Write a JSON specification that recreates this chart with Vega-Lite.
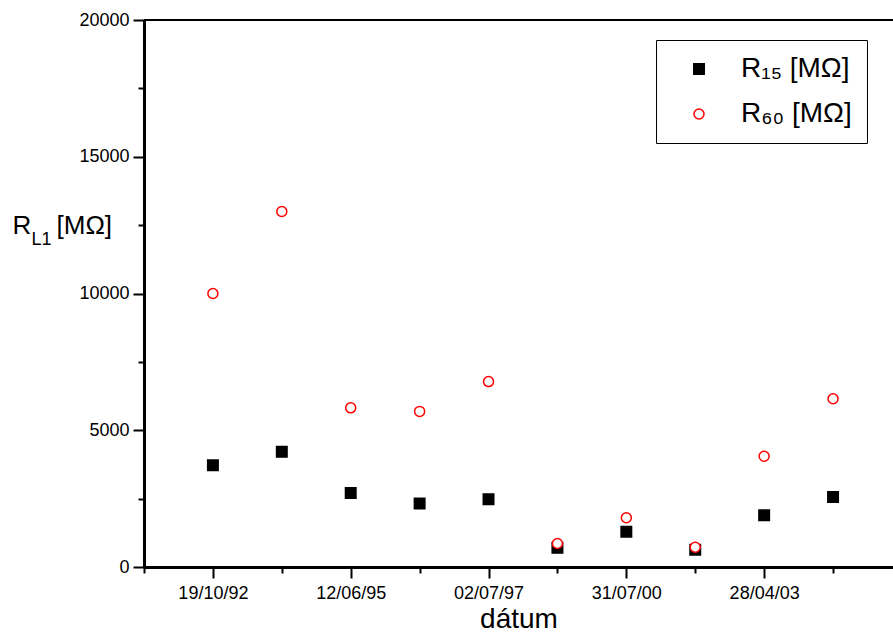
{
  "$schema": "https://vega.github.io/schema/vega-lite/v6.json",
  "width": 749,
  "height": 547,
  "autosize": {"type": "none"},
  "padding": {"left": 144, "top": 20, "right": 0, "bottom": 65},
  "background": "white",
  "config": {
    "view": {"stroke": null},
    "font": "Liberation Sans",
    "axis": {
      "grid": false,
      "domainColor": "black",
      "tickColor": "black",
      "labelColor": "black",
      "titleColor": "black",
      "labelFont": "Liberation Sans",
      "titleFont": "Liberation Sans",
      "titleFontWeight": "normal"
    },
    "legend": {
      "labelFont": "Liberation Sans",
      "labelColor": "black"
    }
  },
  "data": {
    "values": [
      {"i": 0, "s": "R15", "v": 3720},
      {"i": 1, "s": "R15", "v": 4210},
      {"i": 2, "s": "R15", "v": 2710},
      {"i": 3, "s": "R15", "v": 2320},
      {"i": 4, "s": "R15", "v": 2480},
      {"i": 5, "s": "R15", "v": 700},
      {"i": 6, "s": "R15", "v": 1290},
      {"i": 7, "s": "R15", "v": 630},
      {"i": 8, "s": "R15", "v": 1890},
      {"i": 9, "s": "R15", "v": 2560},
      {"i": 0, "s": "R60", "v": 10000},
      {"i": 1, "s": "R60", "v": 13000},
      {"i": 2, "s": "R60", "v": 5820},
      {"i": 3, "s": "R60", "v": 5690},
      {"i": 4, "s": "R60", "v": 6780},
      {"i": 5, "s": "R60", "v": 860},
      {"i": 6, "s": "R60", "v": 1800},
      {"i": 7, "s": "R60", "v": 720},
      {"i": 8, "s": "R60", "v": 4050},
      {"i": 9, "s": "R60", "v": 6150}
    ]
  },
  "layer": [
    {
      "transform": [{"filter": "datum.s == 'R15'"}],
      "mark": {"type": "point", "opacity": 1, "strokeWidth": 1.5},
      "encoding": {
        "x": {
          "field": "i", "type": "quantitative",
          "scale": {"domain": [-1, 9.87], "nice": false, "zero": false},
          "axis": {
            "orient": "bottom",
            "values": [0, 2, 4, 6, 8],
            "labelExpr": "datum.value == 0 ? '19/10/92' : datum.value == 2 ? '12/06/95' : datum.value == 4 ? '02/07/97' : datum.value == 6 ? '31/07/00' : '28/04/03'",
            "labelFlush": false,
            "tickSize": 11,
            "tickWidth": 2,
            "domainWidth": 3,
            "labelFontSize": 18,
            "labelPadding": 6,
            "title": "dátum",
            "titleFontSize": 28,
            "titlePadding": 3
          }
        },
        "y": {
          "field": "v", "type": "quantitative",
          "scale": {"domain": [0, 20000], "nice": false},
          "axis": {
            "orient": "left",
            "values": [0, 5000, 10000, 15000, 20000],
            "format": "d",
            "tickSize": 11,
            "tickWidth": 2,
            "domainWidth": 3,
            "labelFontSize": 18,
            "labelPadding": 4,
            "title": "R",
            "titleAngle": 0,
            "titleAlign": "left",
            "titleBaseline": "alphabetic",
            "titleX": -132,
            "titleY": 213,
            "titleFontSize": 26
          }
        },
        "shape": {"field": "s", "type": "nominal", "scale": {"domain": ["R15", "R60"], "range": ["square", "circle"]}, "legend": {"orient": "none", "legendX": 512, "legendY": 20, "title": null, "strokeColor": "black", "fillColor": "white", "padding": 15, "labelFontSize": 28, "rowPadding": 17, "symbolOffset": 14, "labelOffset": 28, "labelExpr": "datum.label == 'R15' ? 'R₁₅ [MΩ]' : 'R₆₀ [MΩ]'"}},
        "fill": {"field": "s", "type": "nominal", "scale": {"domain": ["R15", "R60"], "range": ["black", "white"]}, "legend": {"orient": "none", "legendX": 512, "legendY": 20, "title": null, "strokeColor": "black", "fillColor": "white", "padding": 15, "labelFontSize": 28, "rowPadding": 17, "symbolOffset": 14, "labelOffset": 28, "labelExpr": "datum.label == 'R15' ? 'R₁₅ [MΩ]' : 'R₆₀ [MΩ]'"}},
        "stroke": {"field": "s", "type": "nominal", "scale": {"domain": ["R15", "R60"], "range": ["black", "#ff0000"]}, "legend": {"orient": "none", "legendX": 512, "legendY": 20, "title": null, "strokeColor": "black", "fillColor": "white", "padding": 15, "labelFontSize": 28, "rowPadding": 17, "symbolOffset": 14, "labelOffset": 28, "labelExpr": "datum.label == 'R15' ? 'R₁₅ [MΩ]' : 'R₆₀ [MΩ]'"}},
        "size": {"field": "s", "type": "nominal", "scale": {"domain": ["R15", "R60"], "range": [110, 100]}, "legend": {"orient": "none", "legendX": 512, "legendY": 20, "title": null, "strokeColor": "black", "fillColor": "white", "padding": 15, "labelFontSize": 28, "rowPadding": 17, "symbolOffset": 14, "labelOffset": 28, "labelExpr": "datum.label == 'R15' ? 'R₁₅ [MΩ]' : 'R₆₀ [MΩ]'"}}
      }
    },
    {
      "transform": [{"filter": "datum.s == 'R60'"}],
      "mark": {"type": "point", "opacity": 1, "strokeWidth": 1.5},
      "encoding": {
        "x": {
          "field": "i", "type": "quantitative",
          "axis": {
            "orient": "bottom",
            "values": [-1, 1, 3, 5, 7, 9],
            "labels": false,
            "domain": false,
            "tickSize": 6,
            "tickWidth": 2,
            "title": null
          }
        },
        "y": {
          "field": "v", "type": "quantitative",
          "axis": {
            "orient": "left",
            "values": [2500, 7500, 12500, 17500],
            "labels": false,
            "domain": false,
            "tickSize": 6,
            "tickWidth": 2,
            "title": "L1",
            "titleAngle": 0,
            "titleAlign": "left",
            "titleBaseline": "alphabetic",
            "titleX": -113,
            "titleY": 224,
            "titleFontSize": 18
          }
        },
        "shape": {"field": "s", "type": "nominal"},
        "fill": {"field": "s", "type": "nominal"},
        "stroke": {"field": "s", "type": "nominal"},
        "size": {"field": "s", "type": "nominal"}
      }
    },
    {
      "mark": {"type": "rule", "color": "black", "strokeWidth": 2},
      "encoding": {
        "y": {
          "datum": 20000, "type": "quantitative",
          "axis": {
            "orient": "left",
            "labels": false,
            "ticks": false,
            "domain": false,
            "title": "[MΩ]",
            "titleAngle": 0,
            "titleAlign": "left",
            "titleBaseline": "alphabetic",
            "titleX": -88,
            "titleY": 213,
            "titleFontSize": 26
          }
        }
      }
    }
  ],
  "resolve": {"axis": {"x": "independent", "y": "independent"}}
}
